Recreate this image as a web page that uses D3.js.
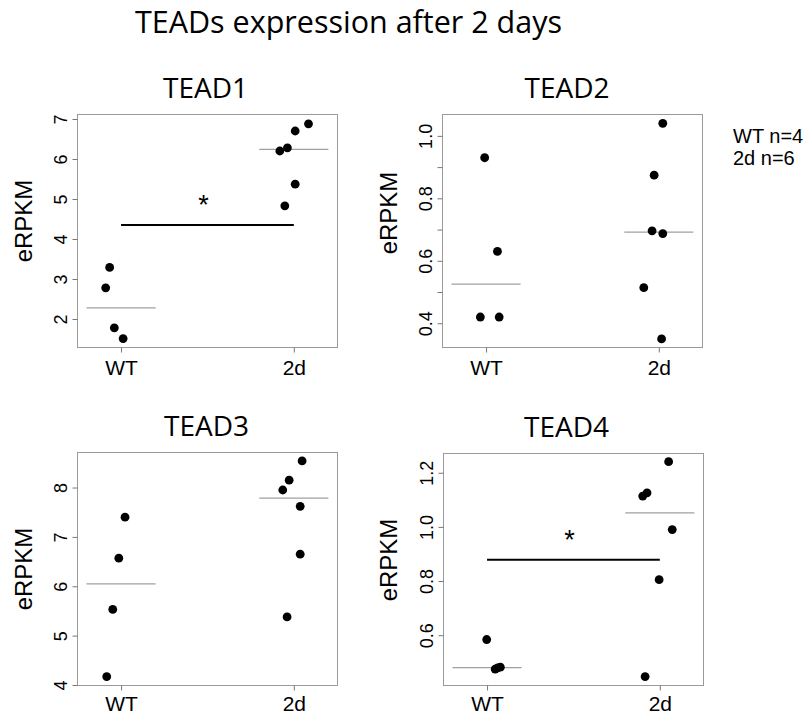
<!DOCTYPE html>
<html>
<head>
<meta charset="utf-8">
<script src="https://cdn.jsdelivr.net/npm/d3@7"></script>
<style>
  body { margin: 0; background: #fff; }
</style>
</head>
<body>
<svg id="chart" width="807" height="714"></svg>
<script>
let svg = d3.select("#chart")

let groups = ["WT", "2d"]
let panelNames = ["TEAD1", "TEAD2", "TEAD3", "TEAD4"]
let mainTitle = "TEADs expression after 2 days"
let legendLines = ["WT n=4", "2d n=6"]

// eRPKM, WT (n=4) and 2d (n=6)
let tead1WT = [3.29, 2.78, 1.78, 1.51]
let tead1D2 = [6.20, 6.28, 6.70, 6.88, 5.37, 4.83]
let tead2WT = [0.93, 0.63, 0.42, 0.42]
let tead2D2 = [1.04, 0.874, 0.696, 0.687, 0.514, 0.35]
let tead3WT = [7.40, 6.57, 5.53, 4.17]
let tead3D2 = [8.54, 8.15, 7.95, 7.62, 6.65, 5.38]
let tead4WT = [0.584, 0.475, 0.482, 0.479]
let tead4D2 = [1.241, 1.114, 1.126, 0.99, 0.805, 0.447]

// stripchart jitter of every point (group units)
let tead1WTJit = [-0.066, -0.089, -0.039, 0.012]
let tead1D2Jit = [-0.081, -0.037, 0.008, 0.085, 0.008, -0.052]
let tead2WTJit = [-0.008, 0.066, -0.033, 0.076]
let tead2D2Jit = [0.023, -0.027, -0.039, 0.023, -0.087, 0.016]
let tead3WTJit = [0.023, -0.013, -0.048, -0.083]
let tead3D2Jit = [0.048, -0.027, -0.064, 0.037, 0.037, -0.039]
let tead4WTJit = [-0.002, 0.047, 0.077, 0.061]
let tead4D2Jit = [0.051, -0.099, -0.074, 0.072, -0.004, -0.085]

let yDomains = [[1.3, 7.125], [0.324, 1.07], [4.0, 8.72], [0.416, 1.273]]
let yTicks = [[2, 3, 4, 5, 6, 7], [0.4, 0.5, 0.6, 0.7, 0.8, 0.9, 1.0], [4, 5, 6, 7, 8], [0.6, 0.8, 1.0, 1.2]]
let yTickLabels = [["2", "3", "4", "5", "6", "7"], ["0.4", "", "0.6", "", "0.8", "", "1.0"],
                   ["4", "5", "6", "7", "8"], ["0.6", "0.8", "1.0", "1.2"]]
let sigLevels = [4.35, null, null, 0.879]   // "*" bar between WT and 2d

let wtValues = [tead1WT, tead2WT, tead3WT, tead4WT]
let d2Values = [tead1D2, tead2D2, tead3D2, tead4D2]
let wtJitter = [tead1WTJit, tead2WTJit, tead3WTJit, tead4WTJit]
let d2Jitter = [tead1D2Jit, tead2D2Jit, tead3D2Jit, tead4D2Jit]

// plot boxes of the 2x2 layout
let boxes = [
  { x0: 77, x1: 337, y0: 114, y1: 347, labX: 32, labY: 221, titleX: 205.5, xlabY: 27 },
  { x0: 442, x1: 702, y0: 114, y1: 347, labX: 397, labY: 213, titleX: 567, xlabY: 27 },
  { x0: 77, x1: 337, y0: 452, y1: 685, labX: 32, labY: 569, titleX: 206.5, xlabY: 25 },
  { x0: 443, x1: 703, y0: 453, y1: 685, labX: 397, labY: 560, titleX: 566.5, xlabY: 25 }
]

let sansR = "'Liberation Sans', Arial, Helvetica, sans-serif"
let sansM = "'Open Sans', 'Noto Sans', sans-serif"

svg.append("text")
  .attr("x", 348.5)
  .attr("y", 33)
  .attr("text-anchor", "middle")
  .style("font-family", sansM)
  .style("font-size", "30.5px")
  .text(mainTitle)

legendLines.forEach((t, i) => {
  svg.append("text")
    .attr("x", 733)
    .attr("y", 143 + i * 22)
    .style("font-family", sansR)
    .style("font-size", "20px")
    .text(t)
})

function drawPanel(i) {
  let b = boxes[i]
  let g = svg.append("g")

  let xScale = d3.scaleLinear().domain([0.745, 2.25]).range([b.x0, b.x1])
  let yScale = d3.scaleLinear().domain(yDomains[i]).range([b.y1, b.y0])

  let points = []
  wtValues[i].forEach((v, j) => points.push({ grp: 1, v: v, jit: wtJitter[i][j] }))
  d2Values[i].forEach((v, j) => points.push({ grp: 2, v: v, jit: d2Jitter[i][j] }))

  // frame
  g.append("rect")
    .attr("x", b.x0 + 0.5)
    .attr("y", b.y0 + 0.5)
    .attr("width", b.x1 - b.x0)
    .attr("height", b.y1 - b.y0)
    .attr("fill", "none")
    .attr("stroke", "#9a9a9a")
    .attr("stroke-width", 1)

  // y axis, labels parallel to the axis as in R
  let yAxis = d3.axisLeft(yScale)
    .tickValues(yTicks[i])
    .tickFormat((d, j) => yTickLabels[i][j])
    .tickSize(5)
    .tickSizeOuter(0)
  let yAxisGroup = g.append("g")
    .attr("transform", `translate(${b.x0 + 0.5},0)`)
    .call(yAxis)
  yAxisGroup.select(".domain").remove()
  yAxisGroup.selectAll(".tick line").attr("stroke", "#777")
  yAxisGroup.selectAll(".tick text")
    .attr("transform", "rotate(-90)")
    .attr("x", 0)
    .attr("y", -10.5)
    .attr("dy", 0)
    .attr("text-anchor", "middle")
    .attr("fill", "#000")
    .style("font-family", sansR)
    .style("font-size", "18px")

  let xAxis = d3.axisBottom(xScale)
    .tickValues([1, 2])
    .tickFormat((d, j) => groups[j])
    .tickSize(5)
    .tickSizeOuter(0)
  let xAxisGroup = g.append("g")
    .attr("transform", `translate(0,${b.y1 + 0.5})`)
    .call(xAxis)
  xAxisGroup.select(".domain").remove()
  xAxisGroup.selectAll(".tick line").attr("stroke", "#777")
  xAxisGroup.selectAll(".tick text")
    .attr("y", b.xlabY)
    .attr("dy", 0)
    .attr("fill", "#000")
    .style("font-family", sansR)
    .style("font-size", "21px")

  // median lines
  let meds = [d3.median(wtValues[i]), d3.median(d2Values[i])]
  g.selectAll("line.med")
    .data(meds)
    .enter()
    .append("line")
    .attr("class", "med")
    .attr("x1", (d, j) => xScale(j + 1 - 0.2))
    .attr("x2", (d, j) => xScale(j + 1 + 0.2))
    .attr("y1", d => yScale(d))
    .attr("y2", d => yScale(d))
    .attr("stroke", "#a0a0a0")
    .attr("stroke-width", 1.2)

  if (sigLevels[i] != null) {
    g.append("line")
      .attr("x1", xScale(1))
      .attr("x2", xScale(2))
      .attr("y1", yScale(sigLevels[i]))
      .attr("y2", yScale(sigLevels[i]))
      .attr("stroke", "#000")
      .attr("stroke-width", 2)
    g.append("text")
      .attr("x", xScale(1.5) - 4)
      .attr("y", yScale(sigLevels[i]) - 11)
      .attr("text-anchor", "middle")
      .style("font-family", sansR)
      .style("font-size", "27px")
      .text("*")
  }

  g.selectAll("circle")
    .data(points)
    .enter()
    .append("circle")
    .attr("cx", d => xScale(d.grp + d.jit))
    .attr("cy", d => yScale(d.v))
    .attr("r", 4.4)
    .attr("fill", "#000")

  g.append("text")
    .attr("x", b.titleX)
    .attr("y", b.y0 - 16)
    .attr("text-anchor", "middle")
    .style("font-family", sansM)
    .style("font-size", "28px")
    .text(panelNames[i])

  g.append("text")
    .attr("transform", `translate(${b.labX},${b.labY}) rotate(-90)`)
    .attr("text-anchor", "middle")
    .style("font-family", sansR)
    .style("font-size", "24px")
    .text("eRPKM")
}

for (let i = 0; i < 4; i++) {
  drawPanel(i)
}
</script>
</body>
</html>
